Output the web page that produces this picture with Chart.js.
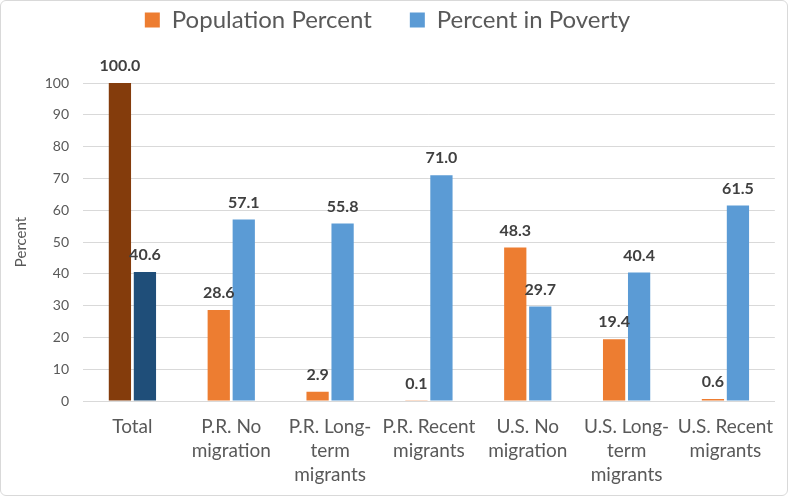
<!DOCTYPE html>
<html>
<head>
<meta charset="utf-8">
<script src="https://cdn.jsdelivr.net/npm/chart.js@4"></script>
<style>
  html, body { margin: 0; padding: 0; background: #ffffff; }
  #wrap { position: relative; width: 788px; height: 496px; }
  #frame { position: absolute; left: 0; top: 0; width: 788px; height: 496px; box-sizing: border-box;
           border: 1px solid #d9d9d9; border-radius: 6px; pointer-events: none; }
</style>
</head>
<body>
<div id="wrap">
  <canvas id="c" width="788" height="496"></canvas>
  <div id="frame"></div>
</div>
<script>
const categories = [
  'Total',
  ['P.R. No', 'migration'],
  ['P.R. Long-', 'term', 'migrants'],
  ['P.R. Recent', 'migrants'],
  ['U.S. No', 'migration'],
  ['U.S. Long-', 'term', 'migrants'],
  ['U.S. Recent', 'migrants']
];
const seriesNames = ['Population Percent', 'Percent in Poverty'];
const populationPercent = [100.0, 28.6, 2.9, 0.1, 48.3, 19.4, 0.6];
const percentInPoverty = [40.6, 57.1, 55.8, 71.0, 29.7, 40.4, 61.5];
const yTicks = { min: 0, max: 100, step: 10 };

const ORANGE = '#ED7D31', BLUE = '#5B9BD5', BROWN = '#843C0C', NAVY = '#1F4E79';
const FONT = 'Lato, "Liberation Sans", sans-serif';
const popColors = populationPercent.map((v, i) => i === 0 ? BROWN : ORANGE);
const povColors = percentInPoverty.map((v, i) => i === 0 ? NAVY : BLUE);

const valueLabels = {
  id: 'valueLabels',
  afterDatasetsDraw(chart) {
    const ctx = chart.ctx;
    ctx.save();
    ctx.font = 'bold 16px ' + FONT;
    ctx.fillStyle = '#404040';
    ctx.textAlign = 'center';
    ctx.textBaseline = 'middle';
    chart.data.datasets.forEach((ds, di) => {
      chart.getDatasetMeta(di).data.forEach((bar, i) => {
        ctx.fillText(ds.data[i].toFixed(1), bar.x, bar.y - 17);
      });
    });
    ctx.restore();
  }
};

const legendTweak = {
  id: 'legendTweak',
  afterInit(chart) {
    const lg = chart.legend;
    const f = lg.fit;
    lg.fit = function () { f.call(this); this.height = 83; };
  },
  afterLayout(chart) {
    const lg = chart.legend;
    lg.top = -30; lg.bottom = lg.top + lg.height;
  }
};

new Chart(document.getElementById('c'), {
  type: 'bar',
  data: {
    labels: categories,
    datasets: [
      { label: seriesNames[0], data: populationPercent, backgroundColor: popColors,
        categoryPercentage: 0.506, barPercentage: 0.89 },
      { label: seriesNames[1], data: percentInPoverty, backgroundColor: povColors,
        categoryPercentage: 0.506, barPercentage: 0.89 }
    ]
  },
  options: {
    responsive: false,
    animation: false,
    devicePixelRatio: 1,
    layout: { padding: { left: 0, right: 13, top: 0, bottom: 0 } },
    plugins: {
      tooltip: { enabled: false },
      legend: {
        position: 'top',
        labels: {
          font: { family: FONT, size: 24 },
          color: '#595959',
          boxWidth: 15,
          boxHeight: 15,
          padding: 38,
          generateLabels(chart) {
            return [
              { text: seriesNames[0], fillStyle: ORANGE, strokeStyle: ORANGE, lineWidth: 0, datasetIndex: 0, fontColor: '#595959' },
              { text: seriesNames[1], fillStyle: BLUE, strokeStyle: BLUE, lineWidth: 0, datasetIndex: 1, fontColor: '#595959' }
            ];
          }
        }
      }
    },
    scales: {
      x: {
        grid: { display: false, drawTicks: false },
        border: { display: true, color: '#d9d9d9' },
        ticks: { font: { family: FONT, size: 19, lineHeight: 1.26 }, color: '#595959', padding: 14, maxRotation: 0, autoSkip: false },
        afterFit(s) { s.height = 95; }
      },
      y: {
        min: yTicks.min, max: yTicks.max,
        grid: { color: '#d9d9d9', drawTicks: false },
        border: { display: false },
        ticks: { stepSize: yTicks.step, font: { family: FONT, size: 14 }, color: '#595959', padding: 14 },
        title: { display: true, text: 'Percent', font: { family: FONT, size: 15 }, color: '#595959', padding: { top: 12, bottom: 0 } },
        afterFit(s) { s.width = 83; }
      }
    }
  },
  plugins: [valueLabels, legendTweak]
});
</script>
</body>
</html>
